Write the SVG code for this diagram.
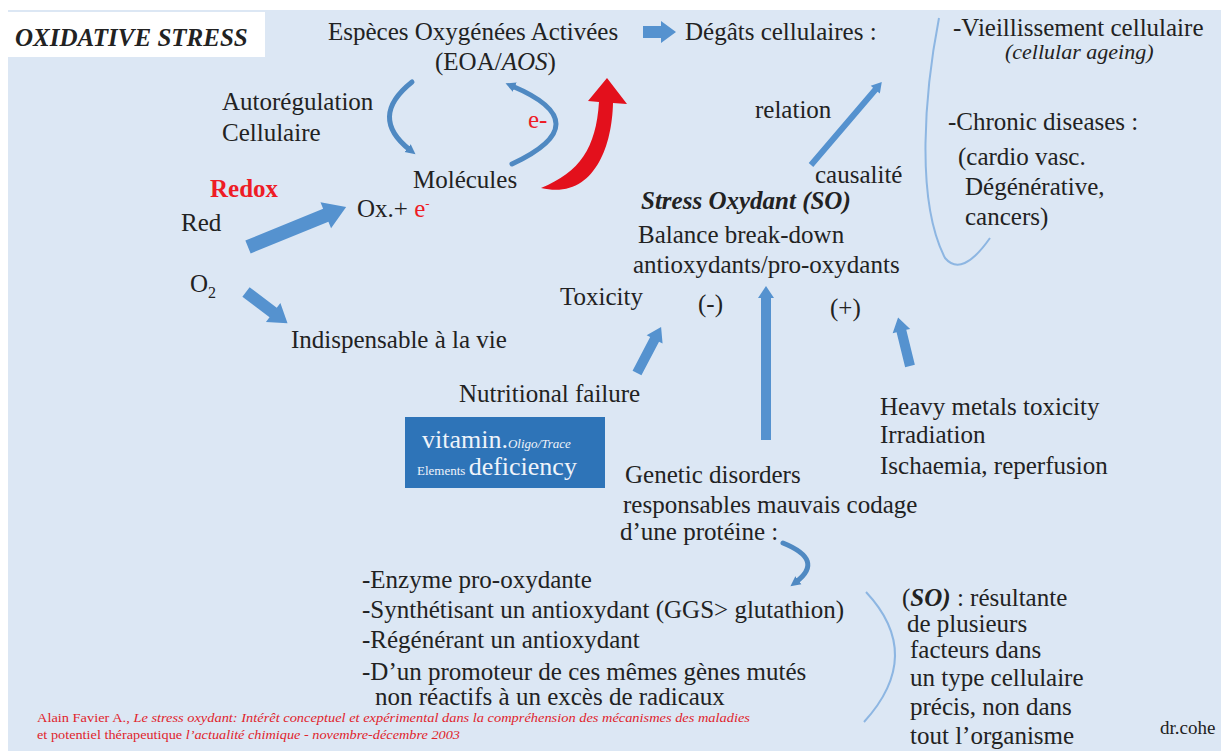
<svg xmlns="http://www.w3.org/2000/svg" width="1221" height="751" viewBox="0 0 1221 751">
<defs>
<style>
text{font-family:'Liberation Serif','Times New Roman',serif;}
.t{font-size:25px;fill:#222;}
.red{fill:#ee1c25;}
.bi{font-weight:bold;font-style:italic;}
.it{font-style:italic;}
.blk{fill:#5592cf;}
.arc{fill:none;stroke:#4f89c2;stroke-width:5;stroke-linecap:round;}
.thin{fill:none;stroke:#8db6e2;stroke-width:2;}
.cite{font-size:12px;fill:#e0242c;}
</style>
<marker id="ah" markerUnits="userSpaceOnUse" markerWidth="14" markerHeight="14" refX="3" refY="7" orient="auto">
<path d="M0,2 L10,7 L0,12 Z" fill="#4f89c2"/>
</marker>
</defs>
<rect x="0" y="0" width="1221" height="751" fill="#ffffff"/>
<rect x="8" y="10" width="1213" height="741" fill="#dce7f4"/>

<g id="title">
<rect x="8" y="12" width="257" height="45" fill="#ffffff"/>
<text class="t bi" x="15" y="46">OXIDATIVE STRESS</text>
</g>

<g id="connectors">
<path class="blk" transform="translate(643,32)" d="M0,-6 L18,-6 L18,-11 L33,0 L18,11 L18,6 L0,6 Z"/>
<path class="blk" transform="translate(248,247) rotate(-22.2)" d="M0,-7 L84,-7 L84,-14 L106,0 L84,14 L84,7 L0,7 Z"/>
<path class="blk" transform="translate(246,292) rotate(37)" d="M0,-6 L34,-6 L34,-12 L52,0 L34,12 L34,6 L0,6 Z"/>
<path class="blk" transform="translate(637,373) rotate(-62.4)" d="M0,-5 L38,-5 L38,-9 L52,0 L38,9 L38,5 L0,5 Z"/>
<path class="blk" transform="translate(766,440) rotate(-90)" d="M0,-5 L142,-5 L142,-8 L154,0 L142,8 L142,5 L0,5 Z"/>
<path class="blk" transform="translate(910,366) rotate(-103.8)" d="M0,-5 L36,-5 L36,-9 L50,0 L36,9 L36,5 L0,5 Z"/>
<path class="blk" transform="translate(811,165) rotate(-49.5)" d="M0,-3 L99,-3 L99,-6 L109,0 L99,6 L99,3 L0,3 Z"/>
<path class="arc" d="M412,82 Q368,117 410,150" marker-end="url(#ah)"/>
<path class="arc" d="M512,164 Q600,123 512,86" marker-end="url(#ah)"/>
<path d="M541,188 C592,200 612,150 613,103 L627,104 L607,78 L588,101 L599,102 C596,148 580,172 541,188 Z" fill="#e3101c"/>
<path class="arc" d="M783,543 Q825,560 796,582" marker-end="url(#ah)"/>
<path class="thin" d="M939,18 C925,90 915,200 945,258 Q962,278 990,238"/>
<path class="thin" d="M866,592 Q925,655 864,722"/>
</g>

<g id="eoa">
<text class="t" x="328" y="40">Espèces Oxygénées Activées</text>
<text class="t" x="435" y="70">(EOA/<tspan class="it">AOS</tspan>)</text>
</g>
<g id="degats"><text class="t" x="685" y="40">Dégâts cellulaires :</text></g>
<g id="autoreg">
<text class="t" x="222" y="110">Autorégulation</text>
<text class="t" x="222" y="141">Cellulaire</text>
</g>
<g id="eminus"><text class="t red" x="528" y="128">e-</text></g>
<g id="molecules"><text class="t" x="413" y="188">Molécules</text></g>
<g id="redox"><text class="t red" x="210" y="197" font-weight="bold">Redox</text></g>
<g id="red"><text class="t" x="181" y="231">Red</text></g>
<g id="ox"><text class="t" x="357" y="217">Ox.+ <tspan class="red">e</tspan><tspan class="red" font-size="13" dy="-9">-</tspan></text></g>
<g id="o2"><text class="t" x="190" y="292">O<tspan font-size="16" dy="6">2</tspan></text></g>
<g id="indisp"><text class="t" x="291" y="348">Indispensable à la vie</text></g>
<g id="relation">
<text class="t" x="755" y="118">relation</text>
<text class="t" x="815" y="183">causalité</text>
</g>
<g id="so">
<text class="t bi" x="641" y="209">Stress Oxydant (SO)</text>
<text class="t" x="638" y="243">Balance break-down</text>
<text class="t" x="633" y="273">antioxydants/pro-oxydants</text>
</g>
<g id="toxicity"><text class="t" x="560" y="305">Toxicity</text></g>
<g id="minus"><text class="t" x="698" y="312">(-)</text></g>
<g id="plus"><text class="t" x="830" y="316">(+)</text></g>
<g id="nutri"><text class="t" x="459" y="402">Nutritional failure</text></g>
<g id="vitamin">
<rect x="405" y="417" width="200" height="71" fill="#2e74b8"/>
<text class="t" x="422" y="448" style="fill:#eef3fa;font-size:26px">vitamin.<tspan font-size="13" class="it">Oligo/Trace</tspan></text>
<text class="t" x="417" y="475" style="fill:#eef3fa;font-size:26px"><tspan font-size="13">Elements </tspan>deficiency</text>
</g>
<g id="heavy">
<text class="t" x="880" y="415">Heavy metals toxicity</text>
<text class="t" x="880" y="443">Irradiation</text>
<text class="t" x="880" y="474">Ischaemia, reperfusion</text>
</g>
<g id="genetic">
<text class="t" x="625" y="483">Genetic disorders</text>
<text class="t" x="623" y="513">responsables mauvais codage</text>
<text class="t" x="620" y="540">d’une protéine :</text>
</g>
<g id="list">
<text class="t" x="362" y="588">-Enzyme pro-oxydante</text>
<text class="t" x="362" y="618">-Synthétisant un antioxydant (GGS&gt; glutathion)</text>
<text class="t" x="362" y="648">-Régénérant un antioxydant</text>
<text class="t" x="362" y="680">-D’un promoteur de ces mêmes gènes mutés</text>
<text class="t" x="375" y="705">non réactifs à un excès de radicaux</text>
</g>
<g id="resultante">
<text class="t" x="902" y="606">(<tspan class="bi">SO)</tspan> : résultante</text>
<text class="t" x="907" y="632">de plusieurs</text>
<text class="t" x="910" y="658">facteurs dans</text>
<text class="t" x="910" y="686">un type cellulaire</text>
<text class="t" x="910" y="715">précis, non dans</text>
<text class="t" x="910" y="744">tout l’organisme</text>
</g>
<g id="effects">
<text class="t" x="953" y="36">-Vieillissement cellulaire</text>
<text class="t it" x="1005" y="59" style="font-size:22px">(cellular ageing)</text>
<text class="t" x="948" y="130">-Chronic diseases :</text>
<text class="t" x="958" y="165">(cardio vasc.</text>
<text class="t" x="965" y="195">Dégénérative,</text>
<text class="t" x="965" y="225">cancers)</text>
</g>
<g id="citation">
<text class="cite" x="37" y="722" textLength="713" lengthAdjust="spacingAndGlyphs">Alain Favier A., <tspan class="it">Le stress oxydant: Intérêt conceptuel et expérimental dans la compréhension des mécanismes des maladies</tspan></text>
<text class="cite" x="37" y="739" textLength="423" lengthAdjust="spacingAndGlyphs">et potentiel thérapeutique <tspan class="it">l’actualité chimique - novembre-décembre 2003</tspan></text>
</g>
<g id="author"><text class="t" x="1160" y="734" style="font-size:19px">dr.cohe</text></g>
</svg>
